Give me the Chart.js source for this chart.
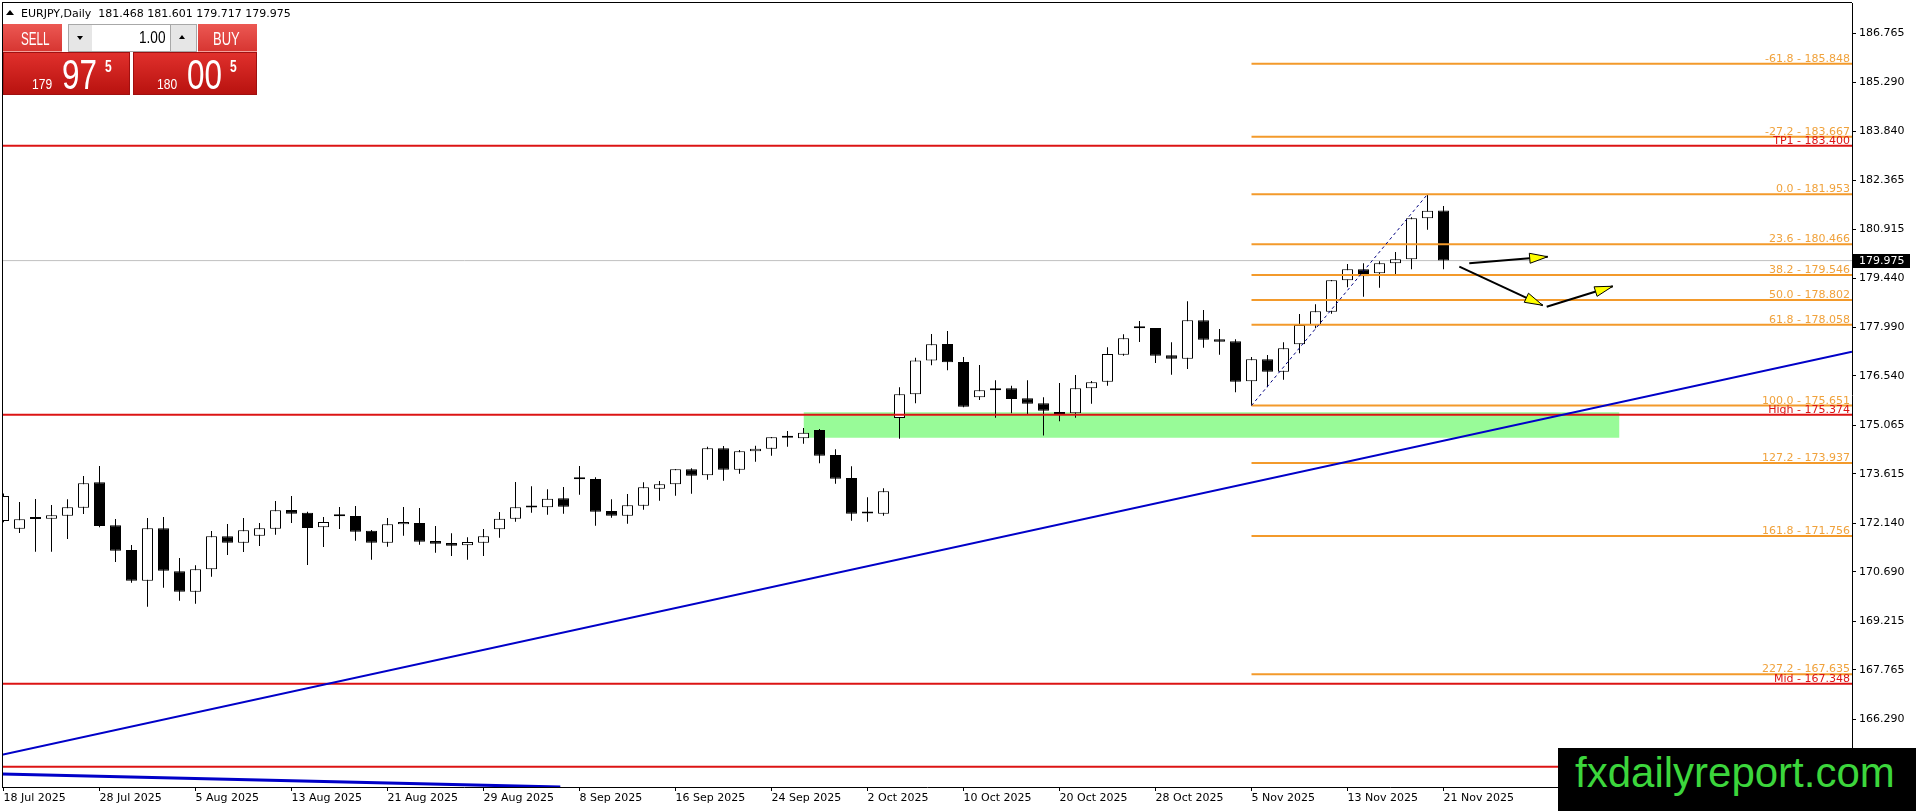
<!DOCTYPE html>
<html><head><meta charset="utf-8">
<script src="https://cdn.jsdelivr.net/npm/chart.js@4.4.1/dist/chart.umd.min.js"></script>
<style>
html,body{margin:0;padding:0;background:#fff;overflow:hidden;}
#wrap{position:relative;width:1916px;height:811px;}
#c{position:absolute;left:0;top:0;width:1916px;height:811px;}
.a{position:absolute;white-space:nowrap;}
.t{position:absolute;white-space:nowrap;line-height:1;font-family:'Liberation Sans',Arial,sans-serif;color:#fff;transform-origin:0 0;}
</style></head><body>
<div id="wrap">
<canvas id="c" width="1916" height="811"></canvas>

<!-- header -->
<div class="a" style="left:6px;top:10px;width:0;height:0;border-left:4px solid transparent;border-right:4px solid transparent;border-bottom:5px solid #000;"></div>
<div class="a" style="left:21px;top:7px;font:11px/13px 'DejaVu Sans',sans-serif;color:#000;">EURJPY,Daily&nbsp;&nbsp;181.468 181.601 179.717 179.975</div>

<!-- trade panel -->
<div class="a" style="left:3px;top:24px;width:59px;height:27px;background:linear-gradient(#ec5853,#d73632);border-bottom:1px solid #f3a09c;"></div>
<div class="a" style="left:68px;top:24px;width:23px;height:26px;background:#e6e6e6;border:1px solid #a8a8a8;"></div>
<div class="a" style="left:77px;top:36px;width:0;height:0;border-left:3px solid transparent;border-right:3px solid transparent;border-top:4px solid #000;"></div>
<div class="a" style="left:92px;top:24px;width:78px;height:26px;background:#fff;border-top:1px solid #a8a8a8;border-bottom:1px solid #a8a8a8;"></div>
<div class="a" style="left:170px;top:24px;width:25px;height:26px;background:#e6e6e6;border:1px solid #a8a8a8;"></div>
<div class="a" style="left:179px;top:35px;width:0;height:0;border-left:3px solid transparent;border-right:3px solid transparent;border-bottom:4px solid #000;"></div>
<div class="a" style="left:198px;top:24px;width:59px;height:27px;background:linear-gradient(#ec5853,#d73632);border-bottom:1px solid #f3a09c;"></div>
<div class="a" style="left:3px;top:52px;width:125px;height:41px;background:linear-gradient(#e0302c,#b8120f);border:1px solid #a01010;"></div>
<div class="a" style="left:133px;top:52px;width:122px;height:41px;background:linear-gradient(#e0302c,#b8120f);border:1px solid #a01010;"></div>

<div class="t" style="left:20.7px;top:29.8px;font-size:18px;transform:scaleX(0.65);">SELL</div>
<div class="t" style="left:213.3px;top:29.8px;font-size:18px;transform:scaleX(0.72);">BUY</div>
<div class="t" style="left:139.3px;top:29.8px;font-size:16px;color:#000;transform:scaleX(0.85);">1.00</div>

<div class="t" style="left:31.7px;top:77.1px;font-size:14px;transform:scaleX(0.86);">179</div>
<div class="t" style="left:61.7px;top:52.9px;font-size:43px;transform:scaleX(0.73);">97</div>
<div class="t" style="left:105px;top:58.5px;font-size:16px;font-weight:bold;transform:scaleX(0.75);">5</div>
<div class="t" style="left:156.7px;top:77.1px;font-size:14px;transform:scaleX(0.86);">180</div>
<div class="t" style="left:186.7px;top:52.9px;font-size:43px;transform:scaleX(0.73);">00</div>
<div class="t" style="left:230px;top:58.5px;font-size:16px;font-weight:bold;transform:scaleX(0.75);">5</div>

<!-- watermark -->
<div class="a" style="left:1558px;top:748px;width:358px;height:63px;background:#000;"></div>
<div class="t" style="left:1575px;top:752.4px;font-size:42px;color:#3cd63c;">fxdailyreport.com</div>
</div>

<script>
// ---------- data ----------
const opens  = [172.207,171.978,172.280,172.276,172.366,172.604,173.360,172.077,171.341,170.426,
                171.988,170.705,170.098,170.765,171.749,171.560,171.769,171.978,172.535,172.455,
                172.018,172.366,172.356,171.918,171.560,172.107,172.147,171.610,171.550,171.481,
                171.560,171.958,172.276,172.620,172.614,172.883,173.465,173.460,172.505,172.366,
                172.664,173.171,173.300,173.748,173.569,174.374,173.738,174.285,174.364,174.698,
                174.673,174.921,174.176,173.489,172.440,172.425,175.279,175.985,176.996,177.487,
                176.950,175.896,176.105,176.165,175.867,175.717,175.449,175.419,176.165,176.364,
                177.169,177.970,177.965,177.149,177.050,178.193,177.627,177.567,176.374,177.030,
                176.662,177.477,178.044,178.452,179.387,179.715,179.596,179.894,180.013,181.236,
                181.468];
const highs  = [173.030,172.773,172.863,172.684,172.853,173.549,173.847,172.266,171.491,172.296,
                172.326,171.103,170.884,171.908,172.117,172.296,172.147,172.803,172.952,172.485,
                172.326,172.624,172.654,171.938,172.296,172.624,172.594,172.057,171.839,171.719,
                171.968,172.475,173.370,173.241,173.151,173.221,173.848,173.509,172.853,173.012,
                173.360,173.400,173.758,173.778,174.424,174.444,174.325,174.454,174.713,174.891,
                174.981,174.951,174.345,173.837,172.913,173.181,176.194,177.079,177.785,177.875,
                177.100,176.861,176.403,176.244,176.403,175.896,176.324,176.563,176.384,177.388,
                177.776,178.174,177.965,177.537,178.760,178.502,177.935,177.627,177.100,177.159,
                177.537,178.382,178.671,179.397,179.874,179.894,179.954,180.232,181.266,181.953,
                181.601];
const lows   = [172.167,171.849,171.292,171.292,171.670,172.415,172.018,170.983,170.367,169.651,
                170.218,169.830,169.740,170.546,171.192,171.282,171.461,171.799,172.147,170.894,
                171.431,171.968,171.620,171.053,171.441,171.769,171.500,171.262,171.162,171.053,
                171.162,171.709,172.187,172.455,172.396,172.425,172.992,172.067,172.306,172.127,
                172.545,172.813,172.962,173.022,173.440,173.410,173.619,173.977,174.156,174.424,
                174.514,173.927,173.320,172.217,172.187,172.366,174.663,175.717,176.851,176.701,
                175.598,175.817,175.290,175.419,175.369,174.760,175.180,175.290,175.707,176.244,
                177.139,177.547,176.921,176.573,176.742,177.378,177.169,176.045,175.651,176.195,
                176.424,177.209,177.955,178.392,179.178,178.900,179.168,179.576,179.715,180.898,
                179.717];
const closes = [172.952,172.256,172.270,172.376,172.614,173.330,172.057,171.322,170.426,171.988,
                170.725,170.098,170.765,171.749,171.560,171.928,171.988,172.525,172.425,171.998,
                172.177,172.346,171.888,171.560,172.107,172.177,171.590,171.530,171.471,171.580,
                171.749,172.276,172.614,172.610,172.873,172.634,173.455,172.485,172.366,172.674,
                173.211,173.300,173.748,173.559,174.374,173.738,174.285,174.364,174.703,174.688,
                174.842,174.156,173.470,172.425,172.430,173.092,175.985,176.996,177.477,176.940,
                175.618,176.105,176.165,175.847,175.707,175.499,175.399,176.165,176.344,177.189,
                177.656,177.960,177.139,177.050,178.193,177.617,177.557,176.364,177.030,176.662,
                177.358,178.054,178.462,179.387,179.715,179.506,179.894,180.013,181.236,181.460,
                179.975];

const xTickIdx    = [0,6,12,18,24,30,36,42,48,54,60,66,72,78,84,90];
const xTickLabels = ['18 Jul 2025','28 Jul 2025','5 Aug 2025','13 Aug 2025','21 Aug 2025','29 Aug 2025',
                     '8 Sep 2025','16 Sep 2025','24 Sep 2025','2 Oct 2025','10 Oct 2025','20 Oct 2025',
                     '28 Oct 2025','5 Nov 2025','13 Nov 2025','21 Nov 2025'];
const yTickValues = [186.765,185.290,183.840,182.365,180.915,179.440,177.990,176.540,175.065,
                     173.615,172.140,170.690,169.215,167.765,166.290];

const fibNames  = ['-61.8','-27.2','0.0','23.6','38.2','50.0','61.8','100.0','127.2','161.8','227.2'];
const fibLevels = [185.848,183.667,181.953,180.466,179.546,178.802,178.058,175.651,173.937,171.756,167.635];
const fibStartIdx = 78;
const fibAnchor = [{x:78, y:175.651},{x:89, y:181.953}];

const redNames  = ['TP1','High','Mid',''];
const redLevels = [183.400,175.374,167.348,164.876];

const zoneX = [50,101];
const zoneY = [174.69,175.45];

const trend1 = [{x:-0.094, y:165.23},{x:115.53, y:177.26}];
const trend2 = [{x:-0.094, y:164.66},{x:34.8, y:164.27}];

const arrow1 = [{x:91.61, y:179.894},{x:96.51, y:180.09}];
const arrow2 = [{x:90.99, y:179.793},{x:96.20, y:178.641}];
const arrow3 = [{x:96.45, y:178.600},{x:100.58, y:179.21}];

const bidPrice = 179.975;

// ---------- config ----------
const X_MIN = -0.09375, X_MAX = 115.53125;
const Y_MIN = 164.2712, Y_MAX = 187.660;
const FIB_LINE = '#f39a2b', FIB_TEXT = '#f0a23c', RED = '#dc1414', BLUE = '#0000c8';
const FONT = "'DejaVu Sans', sans-serif";

const idx = opens.map((_, i) => i);
const datasets = [];

// green zone
datasets.push({type:'line', data:[{x:zoneX[0],y:zoneY[1]},{x:zoneX[1],y:zoneY[1]}],
  borderWidth:0, pointRadius:0, backgroundColor:'#98fb98', fill:{value:zoneY[0]}, order:100});
// bid line
datasets.push({type:'line', data:[{x:X_MIN,y:bidPrice},{x:X_MAX,y:bidPrice}],
  borderColor:'#c0c0c0', borderWidth:1, pointRadius:0, order:95});
// wicks
datasets.push({type:'bar', data: idx.map(i => ({x:i, y:[lows[i], highs[i]]})),
  backgroundColor:'#000', borderWidth:0, barThickness:1, grouped:false, inflateAmount:0, order:80});
// bodies
datasets.push({type:'bar', data: idx.map(i => ({x:i, y:[opens[i], closes[i]]})),
  backgroundColor: idx.map(i => closes[i] >= opens[i] ? '#ffffff' : '#000000'),
  borderColor:'#000', borderWidth:1, borderSkipped:false, barThickness:11, grouped:false,
  minBarLength:2, inflateAmount:0, order:70});
// fib lines
fibLevels.forEach(v => datasets.push({type:'line', data:[{x:fibStartIdx,y:v},{x:X_MAX,y:v}],
  borderColor:FIB_LINE, borderWidth:2, pointRadius:0, order:50}));
// fib anchor dashed
datasets.push({type:'line', data:fibAnchor, borderColor:'#000080', borderWidth:1, borderDash:[3,3], pointRadius:0, order:45});
// red lines
redLevels.forEach(v => datasets.push({type:'line', data:[{x:X_MIN,y:v},{x:X_MAX,y:v}],
  borderColor:RED, borderWidth:2, pointRadius:0, order:40}));
// trend lines
datasets.push({type:'line', data:trend1, borderColor:BLUE, borderWidth:2, pointRadius:0, order:30});
datasets.push({type:'line', data:trend2, borderColor:BLUE, borderWidth:3, pointRadius:0, order:30});
// arrows
[arrow1, arrow2, arrow3].forEach(a => datasets.push({type:'line', data:a, borderColor:'#000', borderWidth:2,
  pointRadius:0, order:20, isArrow:true}));

const mtPlugin = {
  id:'mt',
  afterDatasetsDraw(chart){
    const {ctx, chartArea, scales:{y}} = chart;
    // arrow heads
    chart.data.datasets.forEach((ds, k) => {
      if (!ds.isArrow) return;
      const pts = chart.getDatasetMeta(k).data;
      const p0 = pts[0], p1 = pts[pts.length-1];
      const ang = Math.atan2(p1.y - p0.y, p1.x - p0.x);
      const L = 18, W = 5;
      const bx = p1.x - L*Math.cos(ang), by = p1.y - L*Math.sin(ang);
      ctx.save();
      ctx.beginPath();
      ctx.moveTo(p1.x, p1.y);
      ctx.lineTo(bx + W*Math.sin(ang), by - W*Math.cos(ang));
      ctx.lineTo(bx - W*Math.sin(ang), by + W*Math.cos(ang));
      ctx.closePath();
      ctx.fillStyle = '#ffff00'; ctx.fill();
      ctx.lineWidth = 1; ctx.strokeStyle = '#000'; ctx.stroke();
      ctx.restore();
    });
    ctx.save();
    ctx.font = '11px ' + FONT;
    ctx.textAlign = 'right';
    ctx.textBaseline = 'alphabetic';
    fibLevels.forEach((v, k) => {
      ctx.fillStyle = FIB_TEXT;
      ctx.fillText(fibNames[k] + ' - ' + v.toFixed(3), chartArea.right - 2, Math.round(y.getPixelForValue(v)) - 2);
    });
    redLevels.forEach((v, k) => {
      if (!redNames[k]) return;
      ctx.fillStyle = RED;
      ctx.fillText(redNames[k] + ' - ' + v.toFixed(3), chartArea.right - 2, Math.round(y.getPixelForValue(v)) - 2);
    });
    ctx.restore();
  },
  afterDraw(chart){
    const {ctx, chartArea, scales:{y}} = chart;
    ctx.save();
    ctx.fillStyle = '#000';
    ctx.fillRect(chartArea.left, chartArea.top - 1, chartArea.right - chartArea.left, 1);
    ctx.fillRect(chartArea.left, chartArea.top - 1, 1, chartArea.bottom - chartArea.top + 1);
    const yp = y.getPixelForValue(bidPrice);
    ctx.fillRect(chartArea.right + 1, Math.round(yp) - 7, 57, 14);
    ctx.fillStyle = '#fff';
    ctx.font = '11px ' + FONT;
    ctx.textAlign = 'left';
    ctx.textBaseline = 'middle';
    ctx.fillText(bidPrice.toFixed(3), chartArea.right + 7, Math.round(yp));
    ctx.restore();
  }
};

function zeroPad(s){ s.paddingLeft = 0; s.paddingRight = 0; s.paddingTop = 0; s.paddingBottom = 0; }

new Chart(document.getElementById('c'), {
  type:'bar',
  data:{ datasets },
  options:{
    responsive:false, animation:false, devicePixelRatio:1, events:[],
    layout:{ padding:{ left:2, top:3, right:0, bottom:0 } },
    plugins:{ legend:{display:false}, tooltip:{enabled:false} },
    scales:{
      x:{
        type:'linear', min:X_MIN, max:X_MAX, offset:false,
        grid:{ drawOnChartArea:false, drawTicks:true, tickLength:4, color:'#000', offset:false },
        border:{ display:true, color:'#000', width:1 },
        ticks:{ autoSkip:false, maxRotation:0, minRotation:0, align:'start', padding:1, color:'#000',
                font:{ family:FONT, size:11 }, callback:(v, i) => xTickLabels[i] },
        afterBuildTicks: s => { s.ticks = xTickIdx.map(v => ({value:v})); },
        afterFit: s => { s.height = 24; zeroPad(s); }
      },
      y:{
        type:'linear', position:'right', min:Y_MIN, max:Y_MAX,
        grid:{ drawOnChartArea:false, drawTicks:true, tickLength:4, color:'#000' },
        border:{ display:true, color:'#000', width:1 },
        ticks:{ autoSkip:false, padding:3, color:'#000', font:{ family:FONT, size:11 },
                callback: v => Number(v).toFixed(3) },
        afterBuildTicks: s => { s.ticks = yTickValues.map(v => ({value:v})); },
        afterFit: s => { s.width = 64; zeroPad(s); }
      }
    }
  },
  plugins:[mtPlugin]
});
</script>
</body></html>
